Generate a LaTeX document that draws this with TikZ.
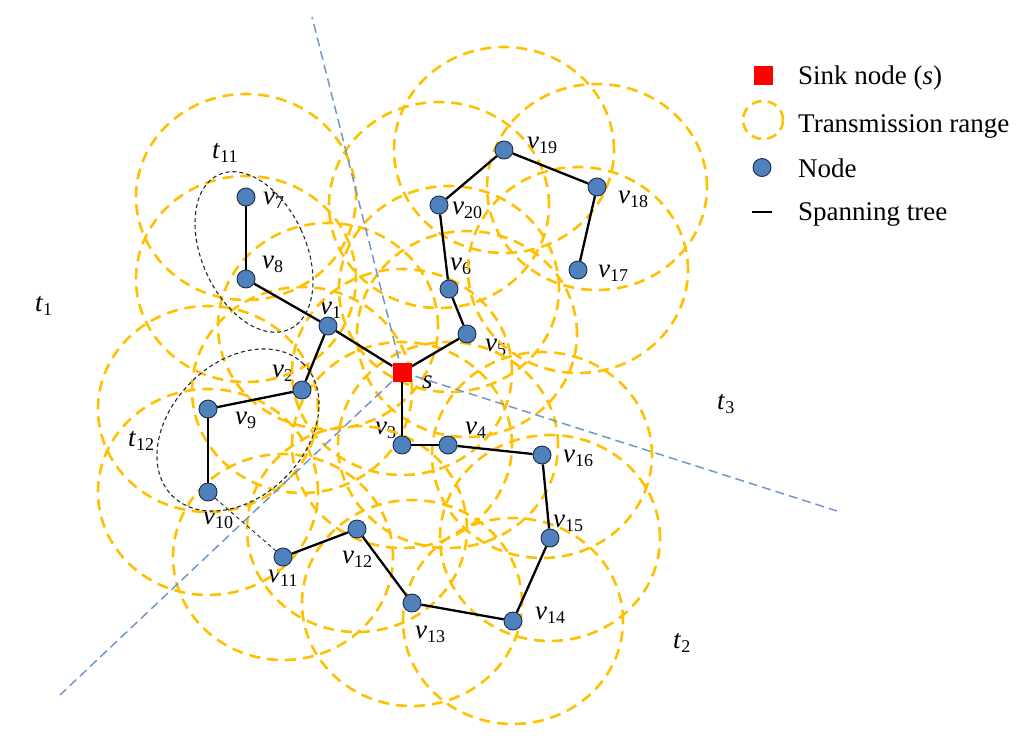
\documentclass[tikz,border=0pt]{standalone}
\usepackage{fontspec}
\setmainfont{Liberation Serif}
\definecolor{rangey}{RGB}{255,192,0}
\definecolor{nodeblue}{RGB}{79,129,189}
\definecolor{lineblue}{RGB}{112,152,202}
\definecolor{nodeedge}{RGB}{30,45,70}
\pgfdeclarelayer{bg}
\pgfdeclarelayer{mid}
\pgfsetlayers{bg,mid,main}
\newcommand\vlab[1]{\textit{v}\raisebox{-4pt}{\fontsize{18}{18}\selectfont #1}}
\newcommand\tlab[1]{\textit{t}\raisebox{-4pt}{\fontsize{18}{18}\selectfont #1}}
\begin{document}
\begin{tikzpicture}[x=1pt,y=1pt,
  sn/.style={circle,fill=nodeblue,draw=nodeedge,line width=0.9pt,minimum size=18pt,inner sep=0pt},
  sinkbox/.style={rectangle,fill=red,minimum size=19pt,inner sep=0pt},
  txrange/.style={draw=rangey,dash pattern=on 11pt off 7pt,line width=2.6pt},
  treeedge/.style={line width=2.3pt,draw=black},
  partline/.style={draw=lineblue,dash pattern=on 9pt off 5pt,line width=1.5pt},
  grpline/.style={draw=black!85,dash pattern=on 4pt off 3pt,line width=1.1pt},
  lab/.style={font=\fontsize{27}{30}\selectfont,inner sep=0pt,anchor=base west}
]
\useasboundingbox (0,0) rectangle (1024,-739);

% nodes
\node[sinkbox] (s) at (402,-372) {};
\node[sn] (v1) at (328,-326) {};
\node[sn] (v2) at (302,-390) {};
\node[sn] (v3) at (402,-445) {};
\node[sn] (v4) at (448,-445) {};
\node[sn] (v5) at (467,-334) {};
\node[sn] (v6) at (449,-289) {};
\node[sn] (v7) at (246,-197) {};
\node[sn] (v8) at (246,-279) {};
\node[sn] (v9) at (208,-409) {};
\node[sn] (v10) at (208,-492) {};
\node[sn] (v11) at (283,-557) {};
\node[sn] (v12) at (357,-529) {};
\node[sn] (v13) at (412,-603) {};
\node[sn] (v14) at (513,-621) {};
\node[sn] (v15) at (550,-538) {};
\node[sn] (v16) at (542,-455) {};
\node[sn] (v17) at (578,-270) {};
\node[sn] (v18) at (597,-187) {};
\node[sn] (v19) at (504,-150) {};
\node[sn] (v20) at (439,-205) {};

\begin{pgfonlayer}{bg}
\fill[white] (0,0) rectangle (1024,-739);
% labels
\node[lab] (l7) at (263,-204) {\vlab{7}};
\node[lab] (l8) at (262,-268) {\vlab{8}};
\node[lab] (l1) at (320,-314) {\vlab{1}};
\node[lab] (l2) at (272,-377) {\vlab{2}};
\node[lab] (l9) at (235,-424) {\vlab{9}};
\node[lab] (l10) at (203,-524) {\vlab{10}};
\node[lab] (l11) at (268,-582) {\vlab{11}};
\node[lab] (l12) at (342,-563) {\vlab{12}};
\node[lab] (l13) at (415,-638) {\vlab{13}};
\node[lab] (l14) at (535,-619) {\vlab{14}};
\node[lab] (l15) at (553,-527) {\vlab{15}};
\node[lab] (l16) at (563,-462) {\vlab{16}};
\node[lab] (l4) at (465,-434) {\vlab{4}};
\node[lab] (l3) at (375,-434) {\vlab{3}};
\node[lab] (ls) at (422,-388) {\textit{s}};
\node[lab] (l5) at (485,-351) {\vlab{5}};
\node[lab] (l6) at (450,-270) {\vlab{6}};
\node[lab] (l20) at (452,-214) {\vlab{20}};
\node[lab] (l19) at (527,-149) {\vlab{19}};
\node[lab] (l18) at (618,-203) {\vlab{18}};
\node[lab] (l17) at (598,-277) {\vlab{17}};
\node[lab] (t1) at (35,-311) {\tlab{1}};
\node[lab] (t11) at (212,-158) {\tlab{11}};
\node[lab] (t12) at (128,-446) {\tlab{12}};
\node[lab] (t3) at (717,-409) {\tlab{3}};
\node[lab] (t2) at (673,-648) {\tlab{2}};
% transmission ranges
\foreach \n in {s,v1,v2,v3,v4,v5,v6,v7,v8,v9,v10,v11,v12,v13,v14,v15,v16,v17,v18,v19,v20}
  \draw[txrange] (\n.center) ellipse [x radius=110, y radius=103];
\end{pgfonlayer}

\begin{pgfonlayer}{mid}
% partition lines
\coordinate (pt) at (312,-17);
\coordinate (pl) at (60,-695);
\coordinate (pr) at (837,-511);
\draw[partline] (s.center) -- (pt);
\draw[partline] (s.center) -- (pl);
\draw[partline] (s.center) -- (pr);
% groups
\draw[grpline, rotate around={24.5:(254,-252)}] (254,-252) ellipse [x radius=52, y radius=85];
\draw[grpline, rotate around={45:(238,-430)}] (238,-430) ellipse [x radius=93, y radius=67];
\draw[grpline, line width=0.9pt] (v10) -- (v11);
% spanning tree
\draw[treeedge] (v7) -- (v8);
\draw[treeedge] (v8) -- (v1);
\draw[treeedge] (v1) -- (s);
\draw[treeedge] (v1) -- (v2);
\draw[treeedge] (v2) -- (v9);
\draw[treeedge] (v9) -- (v10);
\draw[treeedge] (v11) -- (v12);
\draw[treeedge] (v12) -- (v13);
\draw[treeedge] (v13) -- (v14);
\draw[treeedge] (v14) -- (v15);
\draw[treeedge] (v15) -- (v16);
\draw[treeedge] (v16) -- (v4);
\draw[treeedge] (v4) -- (v3);
\draw[treeedge] (v3) -- (s);
\draw[treeedge] (s) -- (v5);
\draw[treeedge] (v5) -- (v6);
\draw[treeedge] (v6) -- (v20);
\draw[treeedge] (v20) -- (v19);
\draw[treeedge] (v19) -- (v18);
\draw[treeedge] (v18) -- (v17);
\end{pgfonlayer}

% legend
\node[sinkbox] (lsink) at (763,-75) {};
\draw[txrange, dash pattern=on 10pt off 6pt] (763,-120) ellipse [x radius=20, y radius=19];
\node[sn] (lnode) at (762,-167.5) {};
\coordinate (lta) at (752,-212);
\coordinate (ltb) at (772,-212);
\draw[treeedge] (lta) -- (ltb);
\node[lab] (tx1) at (798,-84) {Sink node (\textit{s})};
\node[lab] (tx2) at (798,-132) {Transmission range};
\node[lab] (tx3) at (798,-177) {Node};
\node[lab] (tx4) at (798,-220) {Spanning tree};
\end{tikzpicture}
\end{document}
